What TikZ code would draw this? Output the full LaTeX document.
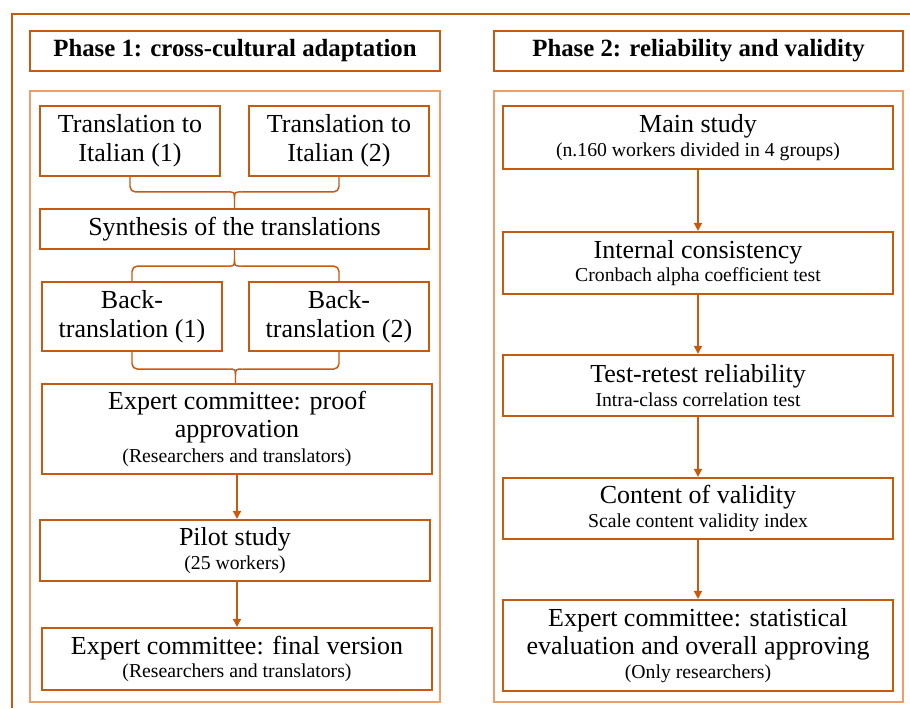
\documentclass[tikz,border=0pt]{standalone}
\usepackage{fontspec}
\setmainfont{Liberation Serif}
\usetikzlibrary{arrows.meta,calc}
\definecolor{dor}{HTML}{C55A11}
\definecolor{lor}{HTML}{EC9F6B}
\newcommand\mtxt{\fontsize{19.5}{22}\selectfont}
\newcommand\stxt{\fontsize{14.8}{17}\selectfont}
\begin{document}
\begin{tikzpicture}[x=0.75pt,y=-0.75pt,
 box/.style={draw=dor,line width=1.6pt,fill=white,inner sep=0pt,align=center,font=\mtxt},
 hdr/.style={box,font=\fontsize{18.6}{21}\selectfont\bfseries},
 panel/.style={draw=lor,line width=1.1pt},
 conn/.style={draw=dor,line width=1.1pt},
 arr/.style={conn,-{Triangle[width=6pt,length=6pt]}},
]
\useasboundingbox (0,0) rectangle (910,708);
\fill[white] (0,0) rectangle (910,708);
% outer frame
\draw[dor,line width=2pt] (12,708) -- (12,14) -- (910,14);
% headers
\node[hdr,minimum width=307.5pt,minimum height=30pt] (h1) at (235,51) {Phase 1: cross-cultural adaptation};
\node[hdr,minimum width=306.75pt,minimum height=30pt] (h2) at (698.5,51) {Phase 2: reliability and validity};
% panels
\node[panel,minimum width=307.5pt,minimum height=458.25pt,inner sep=0pt] (p1) at (235,396.5) {};
\node[panel,minimum width=306.75pt,minimum height=458.25pt,inner sep=0pt] (p2) at (698.5,396.5) {};
% left column
\node[box,minimum width=135pt,minimum height=52.5pt] (t1) at (130,141) {Translation to\\Italian (1)};
\node[box,minimum width=135pt,minimum height=52.5pt] (t2) at (339,141) {Translation to\\Italian (2)};
\node[box,minimum width=291.75pt,minimum height=30pt] (syn) at (234.5,229) {Synthesis of the translations};
\node[box,minimum width=135pt,minimum height=51.75pt] (b1) at (132,316.5) {Back-\\translation (1)};
\node[box,minimum width=135pt,minimum height=51.75pt] (b2) at (339,316.5) {Back-\\translation (2)};
\node[box,minimum width=292.5pt,minimum height=67.5pt] (ex1) at (237,429) {Expert committee: proof\\[-1pt]approvation\\[-3.5pt]{\stxt (Researchers and translators)}};
\node[box,minimum width=292.5pt,minimum height=45.75pt] (pil) at (235,550.5) {Pilot study\\[-4.5pt]{\stxt (25 workers)}};
\node[box,minimum width=292.5pt,minimum height=46.5pt] (fin) at (237,659) {Expert committee: final version\\[-4.5pt]{\stxt (Researchers and translators)}};
% right column
\node[box,minimum width=292.5pt,minimum height=47.25pt] (ms) at (698,137.5) {Main study\\[-4.5pt]{\stxt (n.160 workers divided in 4 groups)}};
\node[box,minimum width=292.5pt,minimum height=46.5pt] (ic) at (698,263) {Internal consistency\\[-4.5pt]{\stxt Cronbach alpha coefficient test}};
\node[box,minimum width=292.5pt,minimum height=45.75pt] (tr) at (698,385.5) {Test-retest reliability\\[-4.5pt]{\stxt Intra-class correlation test}};
\node[box,minimum width=292.5pt,minimum height=45.75pt] (cv) at (698,508.5) {Content of validity\\[-4.5pt]{\stxt Scale content validity index}};
\node[box,minimum width=292.5pt,minimum height=68.25pt] (ex2) at (698,645.5) {Expert committee: statistical\\[-1pt]evaluation and overall approving\\[-3.5pt]{\stxt (Only researchers)}};
% brace 1: t1,t2 -> syn
\coordinate (k1) at ($(syn.north)+(0,-16)$);
\draw[conn,rounded corners=4pt] (t1.south) |- ($(k1)+(-7,0)$);
\draw[conn,rounded corners=4pt] (t2.south) |- ($(k1)+(7,0)$);
\draw[conn] ($(k1)+(-7,0)$) .. controls (k1) .. ($(k1)+(0,7)$) -- (syn.north);
\draw[conn] ($(k1)+(7,0)$) .. controls (k1) .. ($(k1)+(0,7)$);
% brace 2: syn -> b1,b2
\coordinate (k2) at ($(syn.south)+(0,16)$);
\draw[conn,rounded corners=4pt] (b1.north) |- ($(k2)+(-7,0)$);
\draw[conn,rounded corners=4pt] (b2.north) |- ($(k2)+(7,0)$);
\draw[conn] ($(k2)+(-7,0)$) .. controls (k2) .. ($(k2)+(0,-7)$) -- (syn.south);
\draw[conn] ($(k2)+(7,0)$) .. controls (k2) .. ($(k2)+(0,-7)$);
% brace 3: b1,b2 -> ex1
\coordinate (k3) at ($(b1.south)!0.5!(b2.south)+(0,17)$);
\draw[conn,rounded corners=4pt] (b1.south) |- ($(k3)+(-7,0)$);
\draw[conn,rounded corners=4pt] (b2.south) |- ($(k3)+(7,0)$);
\draw[conn] ($(k3)+(-7,0)$) .. controls (k3) .. ($(k3)+(0,7)$) -- (k3 |- ex1.north);
\draw[conn] ($(k3)+(7,0)$) .. controls (k3) .. ($(k3)+(0,7)$);
% arrows left
\draw[arr] (ex1.south) -- (ex1.south |- pil.north);
\draw[arr] (fin.north |- pil.south) -- (fin.north);
% arrows right
\draw[arr] (ms.south) -- (ic.north);
\draw[arr] (ic.south) -- (tr.north);
\draw[arr] (tr.south) -- (cv.north);
\draw[arr] (cv.south) -- (ex2.north);
\end{tikzpicture}
\end{document}
